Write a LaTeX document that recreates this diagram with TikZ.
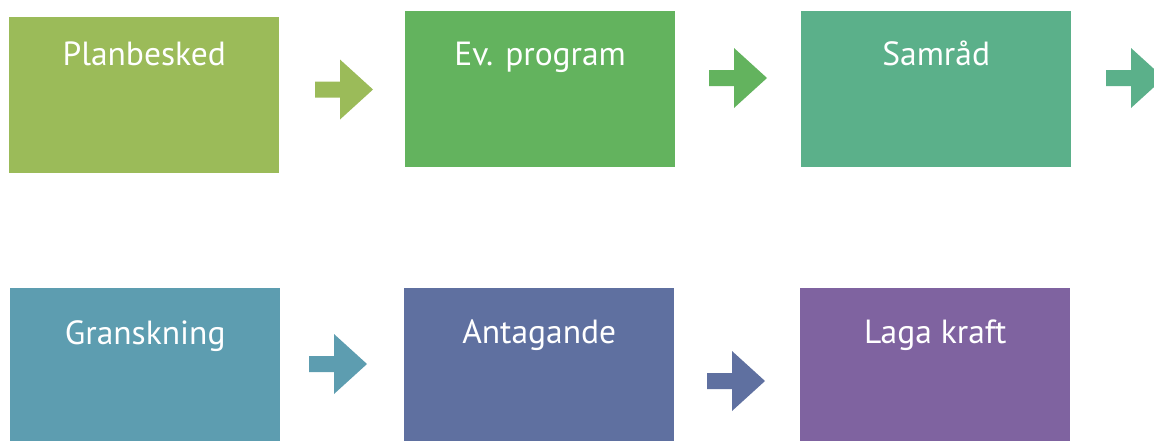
\documentclass[tikz,border=0pt]{standalone}
\usepackage{fontspec}
\setmainfont{PT Sans}
\usepackage{tikz}
\definecolor{olivgron}{HTML}{9BBB59}
\definecolor{gron}{HTML}{63B35E}
\definecolor{blagron}{HTML}{5BB08A}
\definecolor{petrol}{HTML}{5D9DB0}
\definecolor{indigo}{HTML}{5F70A0}
\definecolor{lila}{HTML}{7F63A0}
\tikzset{
	steg/.style={draw=none, inner sep=0pt, minimum width=270pt, minimum height=156pt, anchor=north west},
	rubrik/.style={text=white, anchor=base, inner sep=0pt, font=\fontsize{33.5}{40}\selectfont}
}
% block arrow: start x, centre y, colour
\newcommand{\flodespil}[3]{%
	\fill[#3] (#1,#2-8) -- ++(25,0) -- ++(0,-22) -- ++(33,30) -- ++(-33,30) -- ++(0,-22) -- ++(-25,0) -- cycle;}
\begin{document}
\begin{tikzpicture}[x=1pt,y=-1pt]
			\useasboundingbox (0,0) rectangle (1154,440);
			\clip (0,0) rectangle (1154,440);
			% first row
			\node [steg, fill=olivgron] (planbesked) at (9,17) {};
			\node [steg, fill=gron] (program) at (405,11) {};
			\node [steg, fill=blagron] (samrad) at (801,11) {};
			\node [rubrik] at (planbesked.north |- 0,65) {Planbesked};
			\node [rubrik] at (program.north |- 0,65) {Ev. program};
			\node [rubrik] at (samrad.north |- 0,65) {Samråd};
			\flodespil{315}{89.5}{olivgron}
			\flodespil{709}{78}{gron}
			\flodespil{1106}{78}{blagron}
			% second row
			\node [steg, fill=petrol] (granskning) at (10,288) {};
			\node [steg, fill=indigo] (antagande) at (404,288) {};
			\node [steg, fill=lila] (lagakraft) at (800,288) {};
			\node [rubrik] at (granskning.north |- 0,344) {Granskning};
			\node [rubrik] at (antagande.north |- 0,343) {Antagande};
			\node [rubrik] at (lagakraft.north |- 0,343) {Laga kraft};
			\flodespil{309}{364}{petrol}
			\flodespil{707}{381}{indigo}
		\end{tikzpicture}
\end{document}
